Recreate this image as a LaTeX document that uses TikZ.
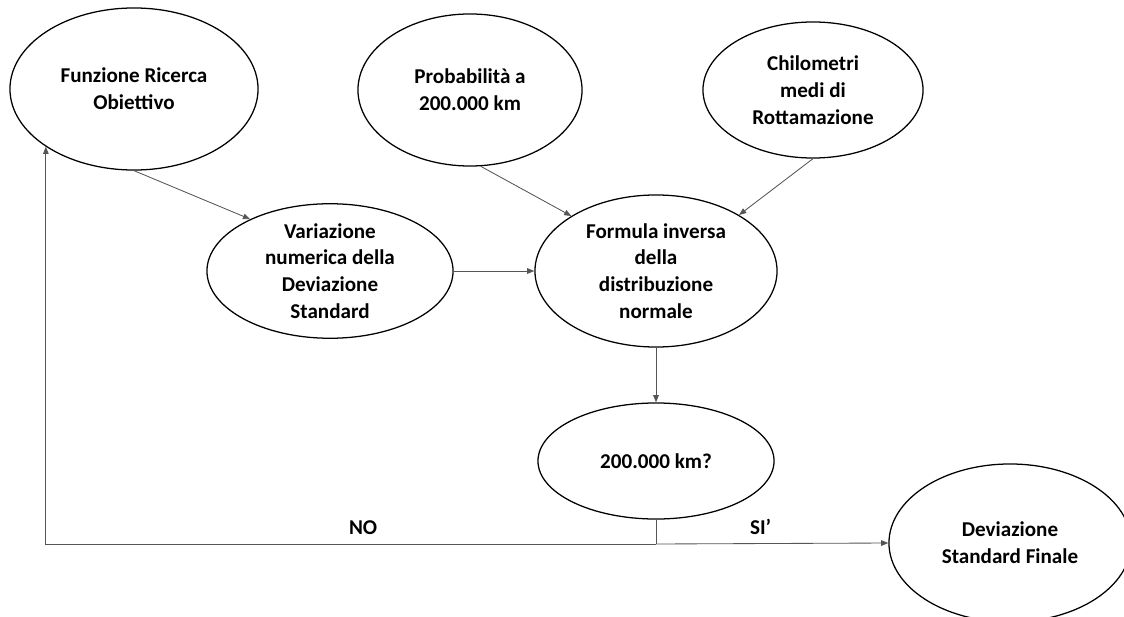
\documentclass[tikz,border=0pt]{standalone}
\usepackage{fontspec}
\setmainfont{Carlito}
\usetikzlibrary{shapes.geometric, arrows.meta}
\definecolor{linegray}{HTML}{555555}

\begin{document}
\begin{tikzpicture}[
  x=0.025cm, y=-0.025cm,
  bubble/.style={ellipse, draw=black, line width=0.9pt, align=center, inner sep=0pt, font=\bfseries\fontsize{15}{19}\selectfont},
  arrow/.style={-{Triangle[length=1.8mm, width=1.4mm]}, line width=0.6pt, color=linegray},
  link/.style={line width=0.6pt, color=linegray},
  choice/.style={font=\bfseries\fontsize{15}{19}\selectfont, text=black, above=3pt}
]
  \useasboundingbox (0,0) rectangle (1124,617);
  \clip (0,0) rectangle (1124,617);

  \node[bubble, minimum width=6.2cm, minimum height=4.05cm] (goalseek) at (134,89) {Funzione Ricerca\\Obiettivo};
  \node[bubble, minimum width=5.6cm, minimum height=3.8cm] (prob) at (470,90) {Probabilità a\\200.000 km};
  \node[bubble, minimum width=5.5cm, minimum height=3.4cm] (scrapkm) at (813,90) {Chilometri\\medi di\\Rottamazione};
  \node[bubble, minimum width=6.15cm, minimum height=3.35cm] (variation) at (330,271) {Variazione\\numerica della\\Deviazione\\Standard};
  \node[bubble, minimum width=6.05cm, minimum height=3.8cm] (invnorm) at (656,271) {Formula inversa\\della\\distribuzione\\normale};
  \node[bubble, minimum width=5.9cm, minimum height=2.9cm] (check) at (656,461) {200.000 km?};
  \node[bubble, minimum width=6.05cm, minimum height=3.95cm] (finaldev) at (1010,543) {Deviazione\\Standard Finale};

  \coordinate (split) at (656,544);

  \draw[arrow] (goalseek.south) -- (variation.147);
  \draw[arrow] (prob.-82) -- (invnorm.147);
  \draw[arrow] (scrapkm.south) -- (invnorm.34);
  \draw[arrow] (variation.east) -- (invnorm.west);
  \draw[arrow] (invnorm.south) -- (check.north);
  \draw[link] (check.south) -- (split);
  \draw[arrow] (split) -| node[choice, pos=0.24] (no) {NO} (goalseek.south west);
  \draw[arrow] (split) -- node[choice, pos=0.45] (yes) {SI’} (finaldev.west);
\end{tikzpicture}
\end{document}
